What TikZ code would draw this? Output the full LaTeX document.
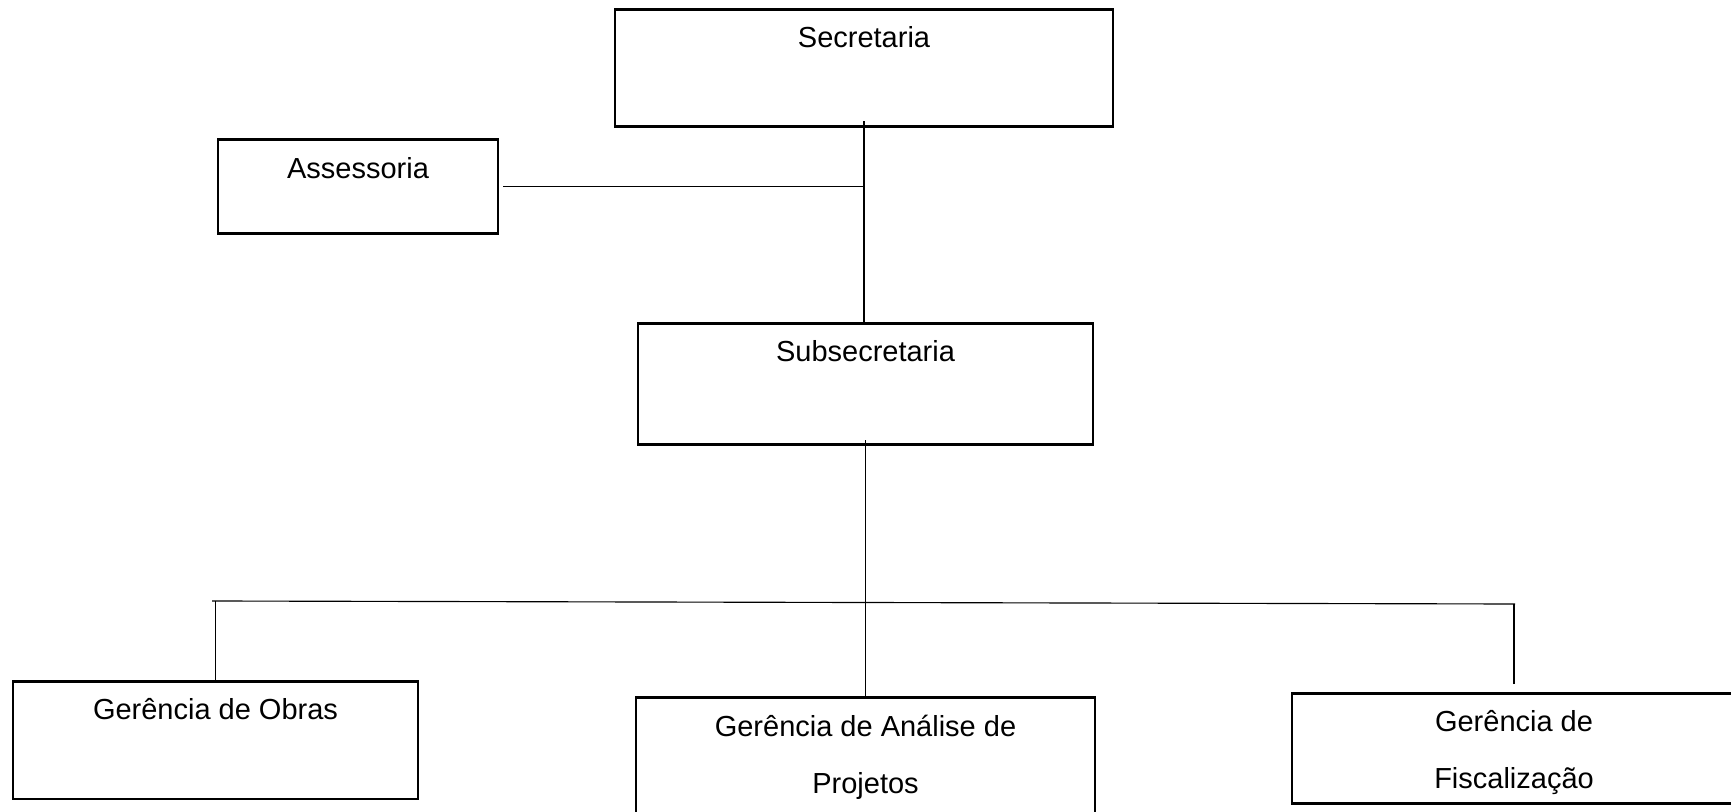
\documentclass[tikz,border=0pt]{standalone}
\usepackage{fontspec}
\setmainfont{Liberation Sans}
\usepackage{tikz}
\usetikzlibrary{positioning}
\tikzset{
    unit/.style={
    rectangle,draw=black,line width=1.6pt,anchor=north,inner sep=0pt,align=center,text height=0.77cm,font=\fontsize{16.5}{32.4}\selectfont
    },
    link/.style={
    draw=black,line width=0.65pt
    },
}

\begin{document}
\begin{tikzpicture}
   \useasboundingbox (0,0) rectangle (34.62,16.22);

   %top
   \node[unit,minimum width=9.96cm,text depth=1.58cm] (sec) at (17.28,16.06) {Secretaria};
   \node[unit,minimum width=5.60cm,text depth=1.10cm,text height=0.78cm] (ass) at (7.16,13.46) {Assessoria};
   \node[unit,minimum width=9.10cm,text depth=1.66cm] (sub) at (17.31,9.78) {Subsecretaria};

   %gerencias (two lines: text height counted from the last line)
   \node[unit,minimum width=8.10cm,text depth=1.58cm] (obras) at (4.31,2.62) {Gerência de Obras};
   \node[unit,minimum width=9.18cm,text height=1.92cm,text depth=0.76cm] (ana) at (17.31,2.30) {Gerência de Análise de\\Projetos};
   \node[unit,minimum width=8.88cm,text height=1.90cm,text depth=0.30cm] (fis) at (30.28,2.38) {Gerência de\\Fiscalização};

   \coordinate (barl) at (4.24,4.20);
   \coordinate (barr) at (30.30,4.14);

  \path[link]
    (sec.south) edge[shorten <=-0.14cm] (sec.south |- sub.north)
    (ass.east) edge[shorten <=0.08cm] (ass.east -| sec.south)
    (sub.south) edge[shorten <=-0.12cm] (ana.north)

    %bar
    (barl) edge (barr)
    (obras.north) edge (obras.north |- barl)
    (fis.north) edge[shorten <=0.16cm] (fis.north |- barr);
  \end{tikzpicture}
\end{document}
